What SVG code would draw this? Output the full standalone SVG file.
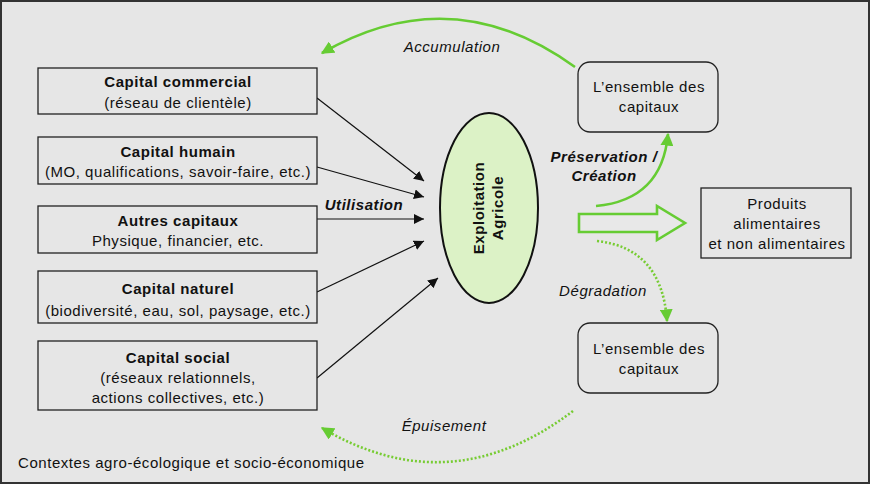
<svg xmlns="http://www.w3.org/2000/svg" width="871" height="485" viewBox="0 0 871 485">
<style>
.t{font-family:"Liberation Sans",Arial,sans-serif;font-size:15px;letter-spacing:0.55px;fill:#111;text-anchor:middle}
.b{font-weight:bold}
.i{font-style:italic}
.box{fill:#e6e6e6;stroke:#222;stroke-width:1.3}
.rbox{fill:#e6e6e6;stroke:#222;stroke-width:1.3}
.blk{stroke:#111;stroke-width:1.2;fill:none;marker-end:url(#ab)}
.grn{stroke:#66cc33;stroke-width:2.6;fill:none;marker-end:url(#ag)}
.dot{stroke:#77cc33;stroke-width:2.6;fill:none;stroke-dasharray:2 2;marker-end:url(#ag)}
</style>
<defs>
<marker id="ab" viewBox="0 0 10 10" refX="10" refY="5" markerWidth="10" markerHeight="10" markerUnits="userSpaceOnUse" orient="auto"><path d="M0,0 L10,5 L0,10 z" fill="#111"/></marker>
<marker id="ag" viewBox="0 0 10 10" refX="9" refY="5" markerWidth="13" markerHeight="13" markerUnits="userSpaceOnUse" orient="auto"><path d="M0,0 L10,5 L0,10 z" fill="#66cc33"/></marker>
</defs>
<rect x="1" y="1" width="868" height="482" fill="#e6e6e6" stroke="#333" stroke-width="2"/>

<g id="connectors">
<path class="blk" d="M317,98 L424,181"/>
<path class="blk" d="M317,167 L424,197"/>
<path class="blk" d="M317,219 L424,219"/>
<path class="blk" d="M317,292 L424,241"/>
<path class="blk" d="M317,378 L438,278"/>
<path class="grn" d="M575,67 Q452,-22 322,53"/>
<path class="grn" d="M596,206 Q662,200 668,134"/>
<path class="dot" d="M597,241 Q662,248 667,321"/>
<path class="dot" d="M573,411 Q450,504 322,428"/>
<path d="M579,214 L657,214 L657,206 L685,223 L657,240 L657,232 L579,232 Z" fill="#e8e8e8" stroke="#66cc33" stroke-width="2.6"/>
<text class="t b i" x="364" y="210">Utilisation</text>
<text class="t i" x="452" y="52">Accumulation</text>
<text class="t b i" x="604" y="162">Préservation /</text>
<text class="t b i" x="604" y="181">Création</text>
<text class="t i" x="603" y="296">Dégradation</text>
<text class="t i" x="444" y="431">Épuisement</text>
</g>

<g id="capital-commercial">
<rect class="box" x="38" y="68" width="279" height="46"/>
<text class="t b" x="178" y="87">Capital commercial</text>
<text class="t" x="178" y="108">(réseau de clientèle)</text>
</g>
<g id="capital-humain">
<rect class="box" x="38" y="137" width="279" height="47"/>
<text class="t b" x="178" y="157">Capital humain</text>
<text class="t" x="178" y="177">(MO, qualifications, savoir-faire, etc.)</text>
</g>
<g id="autres-capitaux">
<rect class="box" x="38" y="206" width="279" height="47"/>
<text class="t b" x="178" y="226">Autres capitaux</text>
<text class="t" x="178" y="246">Physique, financier, etc.</text>
</g>
<g id="capital-naturel">
<rect class="box" x="38" y="271" width="279" height="52"/>
<text class="t b" x="178" y="294">Capital naturel</text>
<text class="t" x="178" y="316">(biodiversité, eau, sol, paysage, etc.)</text>
</g>
<g id="capital-social">
<rect class="box" x="38" y="341" width="279" height="69"/>
<text class="t b" x="178" y="363">Capital social</text>
<text class="t" x="178" y="383">(réseaux relationnels,</text>
<text class="t" x="178" y="403">actions collectives, etc.)</text>
</g>

<g id="exploitation">
<ellipse cx="489" cy="208" rx="49" ry="95" fill="#dcf2c6" stroke="#111" stroke-width="2"/>
<text class="t b" transform="translate(484,208) rotate(-90)" x="0" y="0">Exploitation</text>
<text class="t b" transform="translate(503,208) rotate(-90)" x="0" y="0">Agricole</text>
</g>

<g id="ensemble-haut">
<rect class="rbox" x="578" y="62" width="140" height="70" rx="12"/>
<text class="t" x="649" y="92">L’ensemble des</text>
<text class="t" x="649" y="112">capitaux</text>
</g>
<g id="ensemble-bas">
<rect class="rbox" x="578" y="323" width="140" height="70" rx="12"/>
<text class="t" x="649" y="354">L’ensemble des</text>
<text class="t" x="649" y="374">capitaux</text>
</g>
<g id="produits">
<rect class="box" x="701" y="188" width="150" height="70"/>
<text class="t" x="777" y="209">Produits</text>
<text class="t" x="777" y="229">alimentaires</text>
<text class="t" x="777" y="249">et non alimentaires</text>
</g>

<text class="t" x="18" y="468" style="text-anchor:start">Contextes agro-écologique et socio-économique</text>
</svg>
